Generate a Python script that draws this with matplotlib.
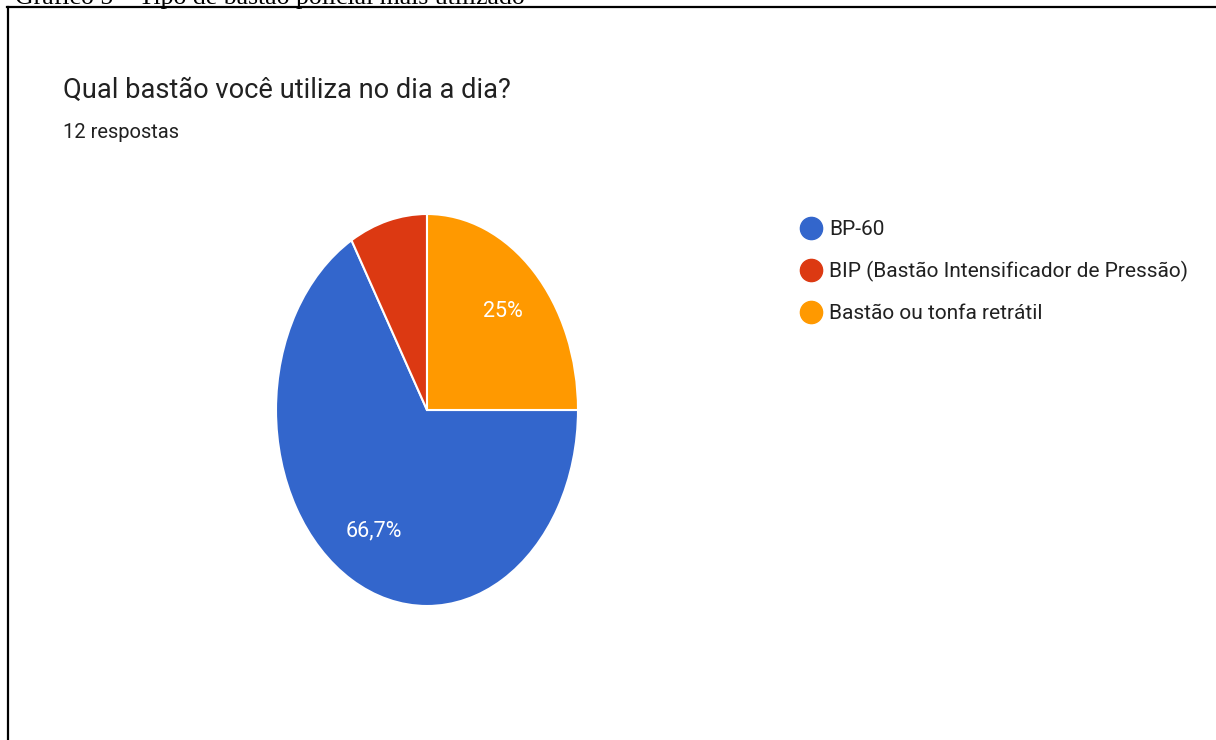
import matplotlib.pyplot as plt
from matplotlib.lines import Line2D

labels = ["BP-60", "BIP (Bastão Intensificador de Pressão)", "Bastão ou tonfa retrátil"]
counts = [8, 1, 3]
colors = ["#3366CC", "#DC3912", "#FF9900"]

title = "Qual bastão você utiliza no dia a dia?"
subtitle = "12 respostas"
caption = "Gráfico 5 – Tipo de bastão policial mais utilizado"

W, H = 1216, 740
fig = plt.figure(figsize=(W / 100, H / 100), dpi=100)


def fx(px):
    return px / W


def fy(py):
    return 1 - py / H


# caption cut by the top edge (as in the source), and the frame lines
fig.text(fx(15), fy(4), caption, family="Liberation Serif", fontsize=18.5,
         va="baseline", ha="left", color="black")
fig.add_artist(Line2D([fx(7), 1], [fy(7), fy(7)], color="black", lw=1.6))
fig.add_artist(Line2D([fx(7.5), fx(7.5)], [fy(7), 0], color="black", lw=1.6))

fig.text(fx(63), fy(90), title, family="Roboto", fontsize=19.6,
         va="center", ha="left", color="#212121")
fig.text(fx(63), fy(132), subtitle, family="Roboto", fontsize=14.5,
         va="center", ha="left", color="#212121")


def fmt(p):
    if p < 10:
        return ""
    return f"{p:.1f}".rstrip("0").rstrip(".").replace(".", ",") + "%"


ax = fig.add_axes([fx(276), fy(606), fx(578) - fx(276), fy(214) - fy(606)])
wedges, _, autotexts = ax.pie(counts, colors=colors, startangle=0, counterclock=False,
                              autopct=fmt, pctdistance=0.71,
                              wedgeprops=dict(edgecolor="white", linewidth=1.5))
for t in autotexts:
    t.set_color("white")
    t.set_fontfamily("Roboto")
    t.set_fontsize(15.5)
ax.set_aspect("auto")
ax.set_xlim(-1, 1)
ax.set_ylim(-1, 1)
ax.axis("off")

handles = [Line2D([], [], marker="o", linestyle="none", markersize=16,
                  markerfacecolor=c, markeredgecolor=c) for c in colors]
fig.legend(handles, labels, loc="upper left", bbox_to_anchor=(fx(796), fy(220)),
           frameon=False, prop={"family": "Roboto", "size": 15},
           handletextpad=0.2, labelspacing=1.05, borderaxespad=0, borderpad=0,
           handlelength=1.4, labelcolor="#212121")

fig.savefig("out.png", dpi=100)
